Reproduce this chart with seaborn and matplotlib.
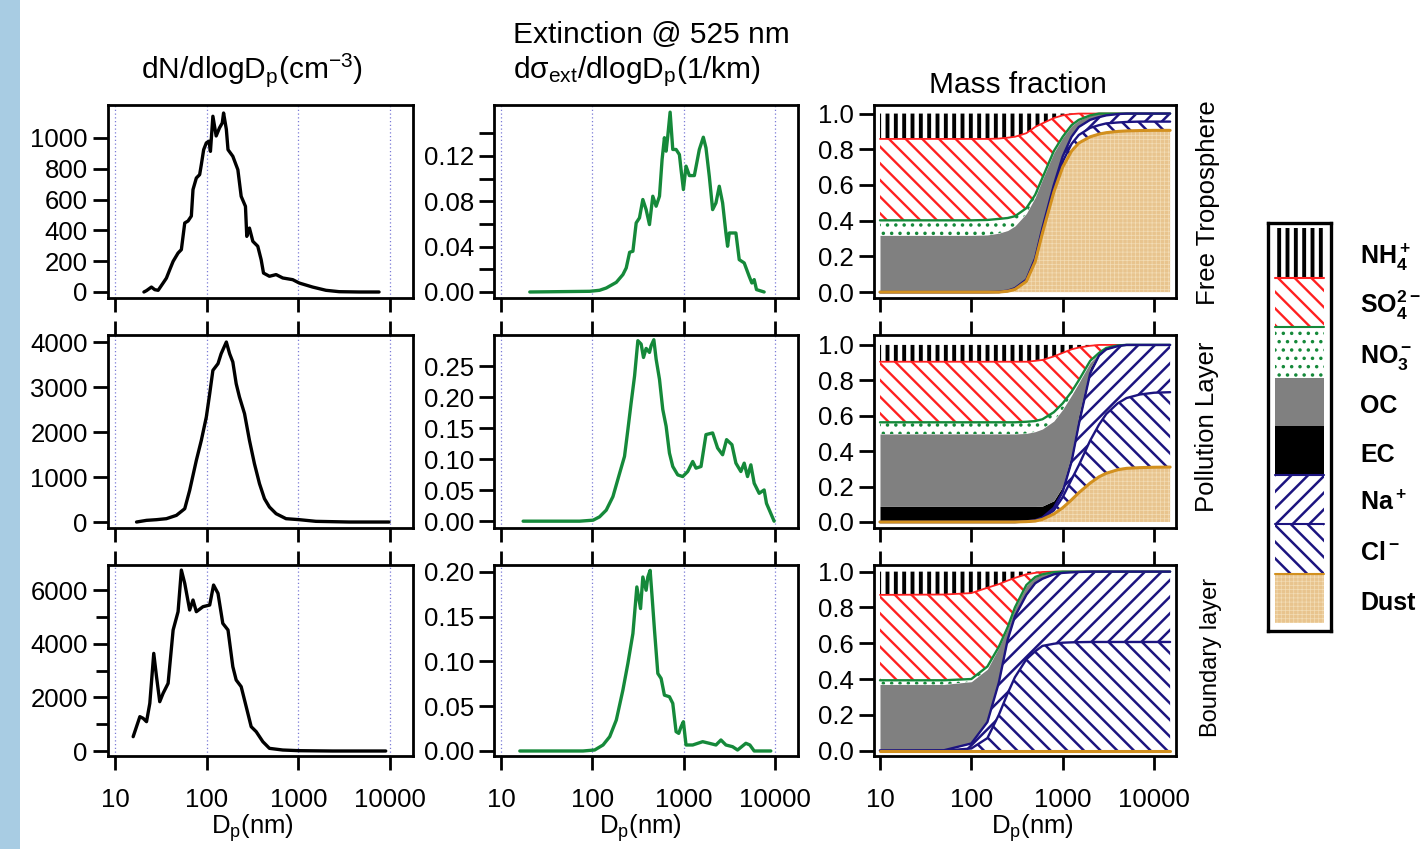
import numpy as np
import pandas as pd
import matplotlib
matplotlib.use("Agg")
import matplotlib.pyplot as plt
import seaborn as sns
from matplotlib.patches import Rectangle
from matplotlib.ticker import NullLocator, FormatStrFormatter

# ---------------- data: number size distributions (dN/dlogDp, cm^-3) ----------------
ft_n_dp = [20.7, 22.1, 25.0, 27.2, 29.6, 33.5, 36.4, 39.6, 43.1, 48.8, 53.0, 57.7, 62.7, 68.1, 71.0,
           77.2, 83.9, 87.5, 92.8, 99.2, 106, 110, 117, 127, 138, 148, 153, 164, 171, 193, 219, 238,
           265, 274, 293, 319, 361, 393, 417, 484, 572, 676, 868, 1025, 1432, 2000, 2791, 4603, 7586]
ft_n = [0, 9, 32, 15, 11, 58, 90, 145, 199, 253, 275, 448, 461, 493, 665, 740, 762, 827, 924, 968,
        979, 913, 1141, 1013, 1065, 1097, 1162, 1056, 924, 881, 794, 621, 556, 361, 415, 329, 297,
        210, 123, 102, 113, 91, 80, 58, 32, 11, 2, 0, 0]

pl_n_dp = [17.2, 22.1, 28.4, 36.4, 46.8, 57.7, 65.3, 77.2, 87.5, 99.2, 108, 117, 133, 144, 164, 178,
           193, 210, 228, 259, 293, 332, 377, 427, 484, 572, 734, 1025, 1556, 3584, 9750]
pl_n = [0, 37, 52, 74, 148, 296, 704, 1370, 1815, 2333, 2852, 3370, 3519, 3741, 4000, 3741, 3556,
        3074, 2778, 2407, 1815, 1296, 852, 519, 333, 185, 74, 52, 15, 0, 0]

bl_n_dp = [15.8, 18.7, 20.3, 22.1, 24.0, 26.5, 28.4, 30.8, 33.5, 38.0, 43.1, 48.8, 53.0, 57.7, 65.3,
           71.0, 77.2, 91.2, 108, 119, 133, 150, 171, 193, 210, 238, 270, 306, 347, 410, 484, 676,
           1025, 2361, 8974]
bl_n = [534, 1280, 1218, 1093, 1776, 3639, 2770, 1838, 2149, 2521, 4509, 5192, 6744, 6247, 5254,
        5627, 5192, 5378, 5440, 6185, 5875, 4757, 4509, 3143, 2646, 2398, 1652, 907, 721, 348, 99,
        37, 12, 0, 0]

# ---------------- data: extinction size distributions (1/km) ----------------
ft_e_dp = [20.7, 93.5, 120, 142, 183, 216, 235, 256, 278, 302, 328, 357, 388, 422, 459, 499, 543,
           580, 615, 642, 669, 710, 759, 825, 897, 935, 992, 1060, 1153, 1307, 1482, 1639, 1752,
           1905, 2072, 2253, 2449, 2664, 2896, 3020, 3149, 3724, 4049, 4590, 5204, 5566, 5902, 6258, 7586]
ft_e = [0, 0.0006, 0.0015, 0.0035, 0.0085, 0.0153, 0.0212, 0.035, 0.0359, 0.0609, 0.0653, 0.0815,
        0.0726, 0.0594, 0.0844, 0.0756, 0.0844, 0.1168, 0.136, 0.1241, 0.1373, 0.1585, 0.1256,
        0.1256, 0.1211, 0.1079, 0.0903, 0.1109, 0.1026, 0.1026, 0.1256, 0.1364, 0.127, 0.102,
        0.0726, 0.0785, 0.0932, 0.0785, 0.052, 0.0403, 0.052, 0.052, 0.0285, 0.0256, 0.0138,
        0.0079, 0.0109, 0.0021, 0]

pl_e_dp = [17.5, 72.8, 102, 120, 142, 168, 199, 225, 245, 266, 290, 315, 342, 363, 388, 422, 440,
           471, 499, 543, 590, 642, 698, 759, 860, 975, 1106, 1254, 1363, 1546, 1752, 2072, 2349,
           2664, 2945, 3368, 3724, 4222, 4590, 4991, 5427, 5902, 6692, 7586, 8045, 9752]
pl_e = [0, 0, 0.0016, 0.007, 0.0178, 0.0395, 0.0773, 0.1044, 0.1476, 0.1908, 0.2341, 0.2908,
        0.2854, 0.2638, 0.2784, 0.2719, 0.2827, 0.2924, 0.2611, 0.2287, 0.18, 0.153, 0.1097,
        0.0881, 0.0746, 0.0719, 0.08, 0.0962, 0.0854, 0.0881, 0.1395, 0.1422, 0.1178, 0.107,
        0.1314, 0.1233, 0.0935, 0.08, 0.0935, 0.0719, 0.0908, 0.0611, 0.0449, 0.0503, 0.0287, 0]

bl_e_dp = [16.1, 79.1, 106, 131, 155, 183, 216, 245, 278, 307, 337, 357, 388, 405, 429, 451, 479,
           521, 566, 615, 698, 759, 825, 882, 935, 992, 1060, 1254, 1612, 1905, 2253, 2555, 2896,
           3424, 3882, 4786, 5292, 5902, 8970]
bl_e = [0, 0, 0.0011, 0.0067, 0.016, 0.0346, 0.068, 0.0978, 0.1312, 0.1833, 0.1591, 0.1944,
        0.1796, 0.1944, 0.2018, 0.1721, 0.1349, 0.0866, 0.081, 0.0624, 0.0606, 0.0532, 0.0216,
        0.0197, 0.0271, 0.0327, 0.0067, 0.0067, 0.0104, 0.0086, 0.0067, 0.0123, 0.0067, 0.0048,
        0.0011, 0.0086, 0.0067, 0, 0]

# ---------------- data: cumulative mass fraction (top edge of each stacked species) ----------------
mf_dp = [10, 50, 100, 150, 200, 250, 300, 400, 500, 600, 800, 1000, 1250, 1500, 2000, 2500, 3000,
         4000, 5000, 7000, 10000, 15000]

ft_dust = [0, 0, 0, 0, 0, 0.005, 0.015, 0.06, 0.17, 0.33, 0.56, 0.70, 0.79, 0.835, 0.87, 0.885, 0.893, 0.90, 0.903, 0.905, 0.906, 0.906]
ft_cl   = [0, 0, 0, 0, 0, 0.006, 0.018, 0.065, 0.18, 0.345, 0.58, 0.73, 0.83, 0.88, 0.92, 0.935, 0.945, 0.95, 0.953, 0.955, 0.955, 0.955]
ft_na   = [0, 0, 0, 0, 0.002, 0.008, 0.022, 0.07, 0.19, 0.36, 0.60, 0.76, 0.87, 0.925, 0.965, 0.98, 0.99, 0.997, 1, 1, 1, 1]
ft_ec   = [0, 0, 0, 0, 0.002, 0.008, 0.022, 0.07, 0.19, 0.36, 0.60, 0.76, 0.87, 0.925, 0.965, 0.98, 0.99, 0.997, 1, 1, 1, 1]
ft_oc   = [0.318, 0.318, 0.318, 0.32, 0.33, 0.345, 0.37, 0.44, 0.53, 0.63, 0.78, 0.865, 0.93, 0.962, 0.99, 1, 1, 1, 1, 1, 1, 1]
ft_no3  = [0.402, 0.402, 0.402, 0.404, 0.41, 0.415, 0.425, 0.47, 0.545, 0.64, 0.79, 0.87, 0.935, 0.965, 0.99, 1, 1, 1, 1, 1, 1, 1]
ft_so4  = [0.858, 0.858, 0.858, 0.858, 0.86, 0.865, 0.87, 0.89, 0.925, 0.945, 0.975, 0.99, 0.997, 1, 1, 1, 1, 1, 1, 1, 1, 1]

pl_dust = [0, 0, 0, 0, 0, 0, 0, 0.002, 0.005, 0.015, 0.045, 0.08, 0.125, 0.165, 0.22, 0.255, 0.275, 0.295, 0.303, 0.307, 0.309, 0.31]
pl_cl   = [0, 0, 0, 0, 0, 0, 0, 0.002, 0.008, 0.02, 0.065, 0.14, 0.24, 0.32, 0.46, 0.55, 0.61, 0.67, 0.70, 0.72, 0.73, 0.733]
pl_na   = [0, 0, 0, 0, 0, 0, 0, 0.003, 0.01, 0.025, 0.08, 0.17, 0.34, 0.55, 0.84, 0.94, 0.975, 0.993, 1, 1, 1, 1]
pl_ec   = [0.088, 0.088, 0.088, 0.088, 0.088, 0.088, 0.088, 0.088, 0.088, 0.09, 0.12, 0.2, 0.38, 0.6, 0.87, 0.95, 0.98, 0.995, 1, 1, 1, 1]
pl_oc   = [0.497, 0.497, 0.497, 0.497, 0.497, 0.497, 0.497, 0.50, 0.51, 0.525, 0.57, 0.635, 0.715, 0.785, 0.9, 0.95, 0.98, 0.996, 1, 1, 1, 1]
pl_no3  = [0.563, 0.563, 0.563, 0.563, 0.563, 0.563, 0.563, 0.566, 0.57, 0.58, 0.62, 0.67, 0.735, 0.80, 0.91, 0.955, 0.983, 0.997, 1, 1, 1, 1]
pl_so4  = [0.905, 0.905, 0.905, 0.905, 0.905, 0.905, 0.905, 0.905, 0.91, 0.915, 0.935, 0.955, 0.975, 0.985, 0.995, 1, 1, 1, 1, 1, 1, 1]

bl_dust = [0, 0, 0, 0, 0, 0, 0, 0, 0, 0, 0, 0, 0, 0, 0, 0, 0, 0, 0, 0, 0, 0]
bl_cl   = [0, 0, 0.012, 0.07, 0.2, 0.32, 0.41, 0.51, 0.555, 0.585, 0.597, 0.603, 0.605, 0.606, 0.607, 0.607, 0.607, 0.607, 0.607, 0.607, 0.607, 0.607]
bl_na   = [0, 0.002, 0.04, 0.16, 0.38, 0.62, 0.75, 0.87, 0.935, 0.96, 0.985, 0.993, 0.996, 0.998, 1, 1, 1, 1, 1, 1, 1, 1]
bl_ec   = [0, 0.002, 0.04, 0.16, 0.38, 0.62, 0.75, 0.87, 0.935, 0.96, 0.985, 0.993, 0.996, 0.998, 1, 1, 1, 1, 1, 1, 1, 1]
bl_oc   = [0.37, 0.37, 0.385, 0.455, 0.575, 0.685, 0.795, 0.92, 0.968, 0.984, 0.996, 1, 1, 1, 1, 1, 1, 1, 1, 1, 1, 1]
bl_no3  = [0.393, 0.393, 0.40, 0.47, 0.58, 0.69, 0.80, 0.925, 0.97, 0.985, 0.997, 1, 1, 1, 1, 1, 1, 1, 1, 1, 1, 1]
bl_so4  = [0.87, 0.872, 0.88, 0.91, 0.93, 0.95, 0.965, 0.985, 0.993, 0.998, 1, 1, 1, 1, 1, 1, 1, 1, 1, 1, 1, 1]
mf_total = [1, 1, 1, 1, 1, 1, 1, 1, 1, 1, 1, 1, 1, 1, 1, 1, 1, 1, 1, 1, 1, 1]

layer_names = ["Free Troposphere", "Pollution Layer", "Boundary layer"]
species_labels = [r"$\mathbf{NH_4^+}$", r"$\mathbf{SO_4^{2-}}$", r"$\mathbf{NO_3^-}$", "OC", "EC",
                  r"$\mathbf{Na^+}$", r"$\mathbf{Cl^-}$", "Dust"]
xtick_vals = [10, 100, 1000, 10000]
xtick_labels = ["10", "100", "1000", "10000"]

# ---------------- styling ----------------
sns.set_theme(style="ticks")
plt.rcParams['font.family'] = ['Liberation Sans', 'DejaVu Sans']
plt.rcParams['mathtext.fontset'] = 'custom'
plt.rcParams['mathtext.rm'] = 'Liberation Sans'
plt.rcParams['mathtext.it'] = 'Liberation Sans:italic'
plt.rcParams['mathtext.bf'] = 'Liberation Sans:bold'
for k in ['text.color', 'axes.labelcolor', 'xtick.color', 'ytick.color', 'axes.edgecolor']:
    plt.rcParams[k] = 'black'

W, H = 1428, 849
fig = plt.figure(figsize=(W / 100, H / 100), dpi=100)
fig.patch.set_facecolor('white')
fig.add_artist(Rectangle((0, 0), 20 / W, 1, transform=fig.transFigure, facecolor='#a8cce3',
                         edgecolor='none', zorder=-5))


def rect(x0, y0, x1, y1):
    return [x0 / W, 1 - y1 / H, (x1 - x0) / W, (y1 - y0) / H]


col_x = [(108, 413), (494, 798), (874, 1176)]
row_y = [(105, 298), (335, 528), (565, 756)]

GREEN = '#15893a'
NAVY = '#1c1480'
RED = '#ff2020'
ORANGE = '#d2901e'
TAN = '#e8c48e'

FS = 18.5
HFS = 21.5

# style per species, bottom -> top: dust, cl, na, ec, oc, no3, so4, nh4
fill_styles = [
    dict(fc=TAN, hatch='++++', hc='#f3ddb6', hlw=0.5),       # dust
    dict(fc='white', hatch='\\\\', hc=NAVY, hlw=1.8),        # Cl
    dict(fc='white', hatch='//', hc=NAVY, hlw=1.8),          # Na
    dict(fc='black', hatch=None, hc='black', hlw=1.0),       # EC
    dict(fc='#808080', hatch=None, hc='#808080', hlw=1.0),   # OC
    dict(fc='white', hatch='..', hc=GREEN, hlw=1.3),         # NO3
    dict(fc='white', hatch='\\\\', hc=RED, hlw=1.7),         # SO4
    dict(fc='white', hatch='||', hc='black', hlw=2.8),       # NH4
]


def set_hlw(artist, lw):
    if hasattr(artist, 'set_hatch_linewidth'):
        artist.set_hatch_linewidth(lw)


def do_fill(ax, x, lo, hi, st):
    plt.rcParams['hatch.linewidth'] = st['hlw']
    coll = ax.fill_between(x, lo, hi, facecolor=st['fc'], edgecolor=st['hc'], linewidth=0,
                           hatch=st['hatch'], zorder=1)
    set_hlw(coll, st['hlw'])
    return coll


number_data = [(ft_n_dp, ft_n), (pl_n_dp, pl_n), (bl_n_dp, bl_n)]
ext_data = [(ft_e_dp, ft_e), (pl_e_dp, pl_e), (bl_e_dp, bl_e)]
mf_data = [
    [ft_dust, ft_cl, ft_na, ft_ec, ft_oc, ft_no3, ft_so4, mf_total],
    [pl_dust, pl_cl, pl_na, pl_ec, pl_oc, pl_no3, pl_so4, mf_total],
    [bl_dust, bl_cl, bl_na, bl_ec, bl_oc, bl_no3, bl_so4, mf_total],
]

n_ylim = [(-39, 1214), (-133, 4156), (-186, 6932)]
n_yticks = [[0, 200, 400, 600, 800, 1000], [0, 1000, 2000, 3000, 4000], [0, 2000, 4000, 6000]]
n_yminor = [[], [], [1000, 3000, 5000]]
e_ylim = [(-0.0053, 0.1648), (-0.011, 0.300), (-0.0056, 0.2078)]
e_yticks = [[0, 0.04, 0.08, 0.12], [0, 0.05, 0.10, 0.15, 0.20, 0.25], [0, 0.05, 0.10, 0.15, 0.20]]
e_yminor = [[0.02, 0.06, 0.10, 0.14], [], []]
m_ylim = [(-0.033, 1.048), (-0.034, 1.056), (-0.03, 1.037)]


def base_style(ax, r, with_grid):
    ax.set_xscale('log')
    ax.set_xticks(xtick_vals)
    ax.set_xticklabels(xtick_labels)
    ax.xaxis.set_minor_locator(NullLocator())
    for s in ax.spines.values():
        s.set_linewidth(2.0)
        s.set_color('black')
        s.set_zorder(10)
    ax.tick_params(axis='both', which='both', direction='out', width=2.0, colors='black',
                   labelsize=FS)
    ax.tick_params(axis='y', which='major', length=10.5, pad=4)
    ax.tick_params(axis='y', which='minor', length=8.5)
    ax.tick_params(axis='x', which='major', length=10, top=(r > 0), bottom=True,
                   labelbottom=(r == 2), labeltop=False, pad=13)
    ax.set_xlabel('')
    ax.set_ylabel('')
    if with_grid:
        ax.grid(axis='x', which='major', linestyle=(0, (1, 2)), color='#7b7bd6', linewidth=0.9)
    else:
        ax.grid(False)
    ax.set_facecolor('white')


for r in range(3):
    # ---- number distribution
    x0, x1 = col_x[0]
    y0, y1 = row_y[r]
    ax = fig.add_axes(rect(x0, y0, x1, y1))
    dp, vals = number_data[r]
    df = pd.DataFrame({'Dp': dp, 'val': vals})
    sns.lineplot(data=df, x='Dp', y='val', ax=ax, color='black', linewidth=2.4,
                 estimator=None, sort=False, legend=False)
    base_style(ax, r, True)
    ax.set_xlim(8.4, 17800)
    ax.set_ylim(*n_ylim[r])
    ax.set_yticks(n_yticks[r])
    ax.set_yticks(n_yminor[r], minor=True)
    ax.yaxis.set_major_formatter(FormatStrFormatter('%d'))

    # ---- extinction distribution
    x0, x1 = col_x[1]
    ax = fig.add_axes(rect(x0, y0, x1, y1))
    dp, vals = ext_data[r]
    df = pd.DataFrame({'Dp': dp, 'val': vals})
    sns.lineplot(data=df, x='Dp', y='val', ax=ax, color=GREEN, linewidth=2.4,
                 estimator=None, sort=False, legend=False)
    base_style(ax, r, True)
    ax.set_xlim(8.4, 17800)
    ax.set_ylim(*e_ylim[r])
    ax.set_yticks(e_yticks[r])
    ax.set_yticks(e_yminor[r], minor=True)
    ax.tick_params(axis='y', which='minor', length=10.5)
    ax.yaxis.set_major_formatter(FormatStrFormatter('%.2f'))

    # ---- mass fraction
    x0, x1 = col_x[2]
    ax = fig.add_axes(rect(x0, y0, x1, y1))
    tops = mf_data[r]
    lower = [0] * len(mf_dp)
    for k, top in enumerate(tops):
        do_fill(ax, mf_dp, lower, top, fill_styles[k])
        lower = top
    # boundary lines
    ax.plot(mf_dp, tops[6], color=RED, lw=1.3, zorder=3)
    ax.plot(mf_dp, tops[5], color=GREEN, lw=1.7, zorder=3)
    ax.plot(mf_dp, tops[1], color=NAVY, lw=1.7, zorder=3)
    ax.plot(mf_dp, tops[2], color=NAVY, lw=1.7, zorder=3)
    ax.plot(mf_dp, tops[0], color=ORANGE, lw=2.2, zorder=4)
    base_style(ax, r, False)
    ax.set_xlim(8.6, 17400)
    ax.set_ylim(*m_ylim[r])
    ax.set_yticks([0, 0.2, 0.4, 0.6, 0.8, 1.0])
    ax.yaxis.set_major_formatter(FormatStrFormatter('%.1f'))

# ---------------- texts ----------------
fig.text(252 / W, 1 - 70 / H, r"dN/dlogD$_\mathrm{p}$(cm$^{-3}$)", ha='center', va='center', fontsize=HFS)
fig.text(513 / W, 1 - 35 / H, "Extinction @ 525 nm", ha='left', va='center', fontsize=HFS)
fig.text(513 / W, 1 - 72 / H, r"dσ$_\mathrm{ext}$/dlogD$_\mathrm{p}$(1/km)", ha='left', va='center', fontsize=HFS)
fig.text(1018 / W, 1 - 85 / H, "Mass fraction", ha='center', va='center', fontsize=HFS)

for cx in [252, 640, 1032]:
    fig.text(cx / W, 1 - 828 / H, r"D$_\mathrm{p}$(nm)", ha='center', va='center', fontsize=18.5)

fig.text(1208 / W, 1 - 203 / H, layer_names[0], rotation=90, ha='center', va='center', fontsize=18.5)
fig.text(1207 / W, 1 - 427 / H, layer_names[1], rotation=90, ha='center', va='center', fontsize=18.5)
fig.text(1211 / W, 1 - 657 / H, layer_names[2], rotation=90, ha='center', va='center', fontsize=17)

# ---------------- legend ----------------
lx0, ly0, lx1, ly1 = 1268, 223, 1331, 631
lax = fig.add_axes(rect(lx0, ly0, lx1, ly1))
lax.set_xlim(lx0, lx1)
lax.set_ylim(ly1, ly0)
lax.set_xticks([])
lax.set_yticks([])
for s in lax.spines.values():
    s.set_linewidth(2.4)
    s.set_color('black')
edges = [228, 278, 327, 378, 426, 475, 524, 574, 623]
leg_order = [7, 6, 5, 4, 3, 2, 1, 0]  # top->bottom uses style index
edge_line_colors = {6: RED, 5: GREEN, 2: NAVY, 1: NAVY, 0: ORANGE}
for i, si in enumerate(leg_order):
    st = fill_styles[si]
    plt.rcParams['hatch.linewidth'] = st['hlw']
    p = Rectangle((1275, edges[i]), 49, edges[i + 1] - edges[i], facecolor=st['fc'],
                  edgecolor=st['hc'], linewidth=0, hatch=st['hatch'])
    set_hlw(p, st['hlw'])
    lax.add_patch(p)
    if si in edge_line_colors:
        lax.plot([1275, 1324], [edges[i], edges[i]], color=edge_line_colors[si], lw=1.5)
    yb = (edges[i] + edges[i + 1]) / 2 + 11
    fig.text(1360 / W, 1 - yb / H, species_labels[i], ha='left', va='baseline', fontsize=18,
             fontweight='bold')

fig.savefig("out.png", dpi=100, facecolor='white')
